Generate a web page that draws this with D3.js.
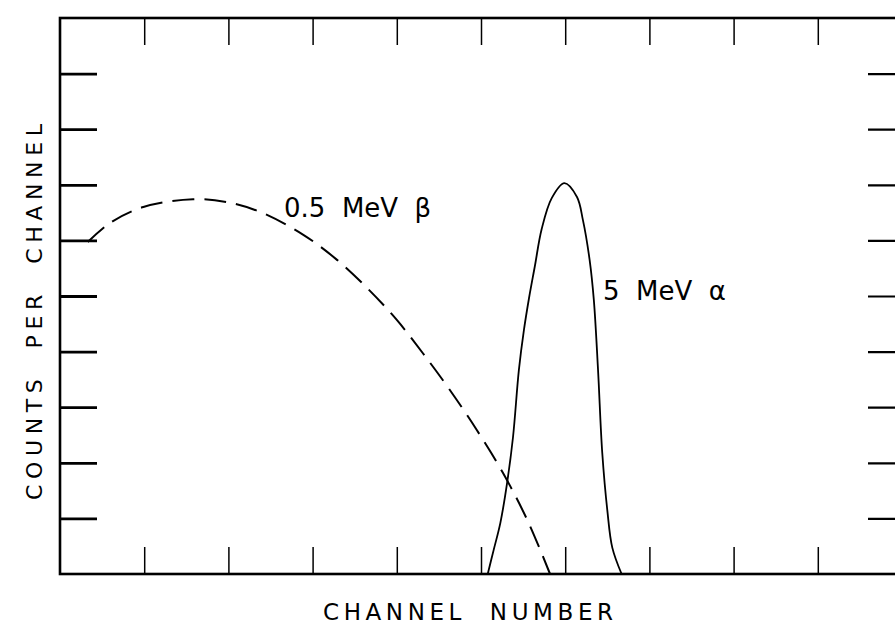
<!DOCTYPE html>
<html>
<head>
<meta charset="utf-8">
<script src="https://cdn.jsdelivr.net/npm/d3@7"></script>
<style>
  body { margin: 0; background: #fff; }
  text { font-family: "DejaVu Sans", sans-serif; fill: #000; }
</style>
</head>
<body>
<div id="chart"></div>
<script>
// chart values (arbitrary units 0..10)
var channelTicks = [1, 2, 3, 4, 5, 6, 7, 8, 9];
var countTicks = [1, 2, 3, 4, 5, 6, 7, 8, 9];

// 0.5 MeV beta spectrum (dashed)
var betaChannel = [0.33, 0.59, 0.99, 1.58, 1.98, 2.38, 2.89, 3.29, 3.65, 4.00, 4.31, 4.63, 4.95, 5.26, 5.55, 5.82];
var betaCounts  = [5.97, 6.31, 6.60, 6.74, 6.69, 6.51, 6.10, 5.65, 5.14, 4.57, 3.97, 3.31, 2.59, 1.82, 0.97, 0.00];

// 5 MeV alpha peak (solid)
var alphaChannel = [5.08, 5.15, 5.23, 5.31, 5.38, 5.45, 5.51, 5.57, 5.64, 5.72, 5.84, 5.99, 6.14, 6.21, 6.29, 6.34, 6.39, 6.44, 6.50, 6.56, 6.67];
var alphaCounts  = [0.00, 0.43, 0.92, 1.64, 2.46, 3.67, 4.39, 4.96, 5.54, 6.20, 6.76, 7.03, 6.78, 6.37, 5.65, 4.93, 3.67, 2.18, 1.15, 0.47, 0.00];

var labelText = ["0.5  MeV  \u03b2", "5  MeV  \u03b1"];
var xTitle = "CHANNEL  NUMBER";
var yTitle = "COUNTS  PER  CHANNEL";

// plot box (window.top is reserved, so no bare "top")
var W = 895, H = 633;
var box = {left: 60, right: 902, top: 18, bottom: 574};

var svg = d3.select("#chart").append("svg")
  .attr("width", W)
  .attr("height", H);

var x = d3.scaleLinear().domain([0, 10]).range([box.left, box.right]);
var y = d3.scaleLinear().domain([0, 10]).range([box.bottom, box.top]);

// tick marks, all pointing inwards, no labels
function tickStyle(g, w) {
  g.select(".domain").remove();
  g.selectAll("text").remove();
  g.selectAll("line").attr("stroke", "#000").attr("stroke-width", w);
}

svg.append("g")
  .attr("transform", "translate(" + box.left + ",0)")
  .call(d3.axisLeft(y).tickValues(countTicks).tickSize(-37).tickFormat(""))
  .call(tickStyle, 2.8);

svg.append("g")
  .attr("transform", "translate(" + box.right + ",0)")
  .call(d3.axisRight(y).tickValues(countTicks).tickSize(-34).tickFormat(""))
  .call(tickStyle, 2.2);

svg.append("g")
  .attr("transform", "translate(0," + box.top + ")")
  .call(d3.axisTop(x).tickValues(channelTicks).tickSize(-27).tickFormat(""))
  .call(tickStyle, 1.5);

svg.append("g")
  .attr("transform", "translate(0," + box.bottom + ")")
  .call(d3.axisBottom(x).tickValues(channelTicks).tickSize(-27).tickFormat(""))
  .call(tickStyle, 1.5);

// frame
svg.append("rect")
  .attr("x", box.left)
  .attr("y", box.top)
  .attr("width", box.right - box.left)
  .attr("height", box.bottom - box.top)
  .attr("fill", "none")
  .attr("stroke", "#000")
  .attr("stroke-width", 2.6);

var line = d3.line()
  .x(function(d) { return x(d[0]); })
  .y(function(d) { return y(d[1]); })
  .curve(d3.curveCatmullRom.alpha(0.5));

var beta = d3.zip(betaChannel, betaCounts);
var alpha = d3.zip(alphaChannel, alphaCounts);

svg.append("path")
  .datum(beta)
  .attr("d", line)
  .attr("fill", "none")
  .attr("stroke", "#000")
  .attr("stroke-width", 2)
  .attr("stroke-dasharray", "22,10");

svg.append("path")
  .datum(alpha)
  .attr("d", line)
  .attr("fill", "none")
  .attr("stroke", "#000")
  .attr("stroke-width", 1.8);

// curve labels
svg.append("text")
  .attr("x", 284)
  .attr("y", 217)
  .attr("font-size", 26)
  .style("white-space", "pre")
  .text(labelText[0]);

svg.append("text")
  .attr("x", 603)
  .attr("y", 300)
  .attr("font-size", 26)
  .style("white-space", "pre")
  .text(labelText[1]);

// axis titles
svg.append("text")
  .attr("x", 323)
  .attr("y", 620)
  .attr("font-size", 23)
  .attr("textLength", 290)
  .attr("lengthAdjust", "spacing")
  .style("white-space", "pre")
  .text(xTitle);

svg.append("text")
  .attr("transform", "translate(42,500) rotate(-90)")
  .attr("font-size", 22)
  .attr("textLength", 376)
  .attr("lengthAdjust", "spacing")
  .style("white-space", "pre")
  .text(yTitle);
</script>
</body>
</html>
